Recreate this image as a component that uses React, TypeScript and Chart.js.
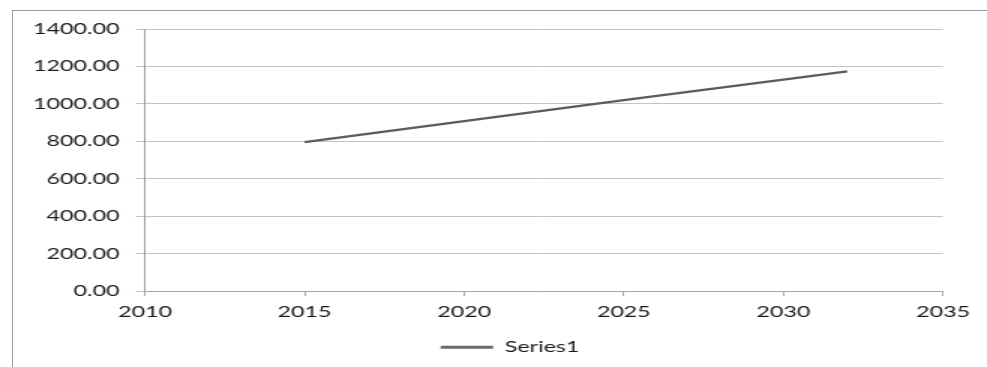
import React, { useEffect, useRef } from "react";
import { Chart, registerables } from "chart.js";

Chart.register(...registerables);

// Data
const years = [2015, 2020, 2025, 2030, 2032];
const values = [795, 908, 1020, 1130, 1173];
const seriesName = "Series1";
const xMin = 2010;
const xMax = 2035;
const xStep = 5;
const yMin = 0;
const yMax = 1400;
const yStep = 200;

// The reference picture is horizontally stretched; we draw at a narrower width and stretch
const STRETCH = 1.5;
const W = 987;
const H = 367;
const CW = W / STRETCH;
const LEGEND_SHIFT = 25.7;

const legendShift = {
  id: "legendShift",
  beforeDraw(chart: any) {
    const l = chart.legend;
    if (l && !l._shifted) {
      l.left += LEGEND_SHIFT;
      l.right += LEGEND_SHIFT;
      l._shifted = true;
    }
  },
};

export default function App() {
  const ref = useRef<HTMLCanvasElement | null>(null);

  useEffect(() => {
    const canvas = ref.current;
    if (!canvas) return;
    const font = { family: "Lato", size: 15.5 };
    const textColor = "#1a1a1a";
    const chart = new Chart(canvas, {
      type: "line",
      data: {
        datasets: [
          {
            label: seriesName,
            data: years.map((x, i) => ({ x, y: values[i] })),
            borderColor: "#5c5c5c",
            backgroundColor: "#6a6a6a",
            borderWidth: 2.3,
            pointRadius: 0,
            tension: 0,
          },
        ],
      },
      plugins: [legendShift],
      options: {
        responsive: false,
        animation: false,
        devicePixelRatio: 1,
        layout: {
          padding: { left: 0, right: 29.33, top: 29, bottom: 2 },
        },
        plugins: {
          tooltip: { enabled: false },
          legend: {
            position: "bottom",
            labels: {
              font,
              color: textColor,
              boxWidth: 35,
              boxHeight: 3,
              padding: 10,
              generateLabels: (c: any) =>
                c.data.datasets.map((d: any, i: number) => ({
                  text: d.label,
                  fillStyle: "#6a6a6a",
                  strokeStyle: "#6a6a6a",
                  lineWidth: 0,
                  hidden: false,
                  datasetIndex: i,
                  fontColor: textColor,
                })),
            },
          },
        },
        scales: {
          x: {
            type: "linear",
            min: xMin,
            max: xMax,
            afterFit: (s: any) => {
              s.height = 38.5;
            },
            ticks: {
              stepSize: xStep,
              font,
              color: textColor,
              padding: 7,
              maxRotation: 0,
              callback: (v: any) => String(v),
            },
            grid: {
              drawOnChartArea: false,
              drawTicks: true,
              tickLength: 5,
              color: "#a8a8a8",
            },
            border: { color: "#a8a8a8", width: 1 },
          },
          y: {
            min: yMin,
            max: yMax,
            afterFit: (s: any) => {
              s.width = 96.67;
            },
            ticks: {
              stepSize: yStep,
              font,
              color: textColor,
              padding: 11,
              callback: (v: any) => Number(v).toFixed(2),
            },
            grid: {
              color: "#c4c4c4",
              tickLength: 6,
              drawTicks: true,
            },
            border: { color: "#a0a0a0", width: 1 },
          },
        },
      },
    } as any);
    return () => chart.destroy();
  }, []);

  return (
    <div
      style={{
        position: "fixed",
        left: 0,
        top: 0,
        width: W,
        height: H,
        overflow: "hidden",
        background: "#fff",
      }}
    >
      <div
        style={{
          position: "absolute",
          left: 12,
          top: 10,
          width: 1000,
          height: 400,
          borderLeft: "1px solid #9a9a9a",
          borderTop: "1px solid #9a9a9a",
        }}
      />
      <div
        style={{
          position: "absolute",
          left: 0,
          top: 0,
          width: CW,
          height: H,
          transform: `scaleX(${STRETCH})`,
          transformOrigin: "0 0",
        }}
      >
        <canvas ref={ref} width={CW} height={H} />
      </div>
    </div>
  );
}
